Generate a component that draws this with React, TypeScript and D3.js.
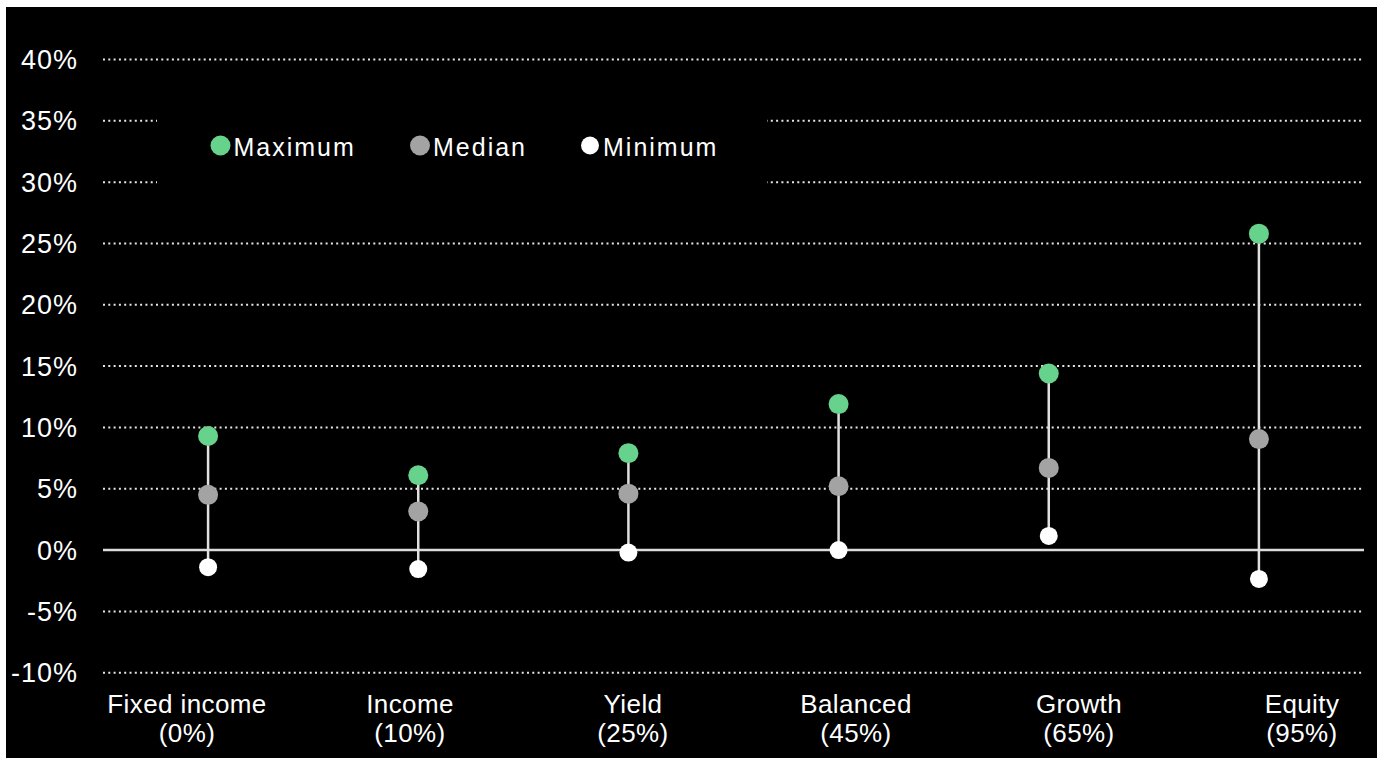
import React from "react";
import * as d3 from "d3";

// Portfolio return ranges by asset mix
const categories = ["Fixed income", "Income", "Yield", "Balanced", "Growth", "Equity"];
const equityShares = ["(0%)", "(10%)", "(25%)", "(45%)", "(65%)", "(95%)"];
const maximumValues = [9.3, 6.1, 7.9, 11.9, 14.4, 25.8];
const medianValues = [4.5, 3.15, 4.6, 5.2, 6.7, 9.05];
const minimumValues = [-1.4, -1.55, -0.2, 0.0, 1.15, -2.35];
const yTicks = [-10, -5, 0, 5, 10, 15, 20, 25, 30, 35, 40];

const legendItems = [
  { label: "Maximum", color: "#66d28b" },
  { label: "Median", color: "#a3a3a3" },
  { label: "Minimum", color: "#ffffff" },
];

const W = 1383;
const H = 765;
const FONT = "'Liberation Sans', Arial, Helvetica, sans-serif";

export default function App() {
  // markers sit in the plot bands; the category labels use a slightly wider band
  const x = d3.scaleBand<string>().domain(categories).range([103, 1364]);
  const xLabel = d3.scaleBand<string>().domain(categories).range([75.5, 1413.5]);
  const y = d3.scaleLinear().domain([-10, 40]).range([672.7, 59.5]);
  const cx = (c: string) => (x(c) as number) + x.bandwidth() / 2;
  const lx = (c: string) => (xLabel(c) as number) + xLabel.bandwidth() / 2;

  const legendX = [220.5, 420, 590];

  return (
    <svg
      width={W}
      height={H}
      style={{ position: "absolute", left: 0, top: 0, background: "#ffffff" }}
      fontFamily={FONT}
    >
      <rect x={6} y={7} width={1371} height={751} fill="#000000" />

      {/* gridlines */}
      {yTicks.map((t) =>
        t === 0 ? null : (
          <line
            key={`g${t}`}
            x1={103}
            x2={1364}
            y1={y(t)}
            y2={y(t)}
            stroke="#e6e6e6"
            strokeWidth={2}
            strokeDasharray="2 3.3"
          />
        )
      )}
      <line x1={103} x2={1364} y1={y(0)} y2={y(0)} stroke="#dcdcdc" strokeWidth={2.5} />

      {/* y tick labels */}
      {yTicks.map((t) => (
        <text
          key={`t${t}`}
          x={78}
          y={y(t) + 9.5}
          textAnchor="end"
          fontSize={27}
          letterSpacing={1}
          fill="#ffffff"
        >
          {`${t}%`}
        </text>
      ))}

      {/* legend */}
      <rect x={157} y={104} width={610} height={96} fill="#000000" />
      {legendItems.map((item, i) => (
        <g key={item.label}>
          <circle cx={legendX[i]} cy={145.5} r={item.label === "Minimum" ? 9 : 10} fill={item.color} />
          <text
            x={legendX[i] + 13}
            y={155.7}
            fontSize={25}
            letterSpacing={2}
            fill="#ffffff"
          >
            {item.label}
          </text>
        </g>
      ))}

      {/* ranges */}
      {categories.map((c, i) => {
        const px = cx(c);
        return (
          <g key={c}>
            <line
              x1={px}
              x2={px}
              y1={y(maximumValues[i])}
              y2={y(minimumValues[i])}
              stroke="#e0e0e0"
              strokeWidth={2.5}
            />
            <circle cx={px} cy={y(maximumValues[i])} r={10} fill={legendItems[0].color} />
            <circle cx={px} cy={y(medianValues[i])} r={10} fill={legendItems[1].color} />
            <circle cx={px} cy={y(minimumValues[i])} r={9} fill={legendItems[2].color} />
          </g>
        );
      })}

      {/* category labels */}
      {categories.map((c, i) => (
        <text key={`c${c}`} textAnchor="middle" fontSize={26} letterSpacing={0.4} fill="#ffffff">
          <tspan x={lx(c)} y={713.3}>
            {c}
          </tspan>
          <tspan x={lx(c)} y={741.7}>
            {equityShares[i]}
          </tspan>
        </text>
      ))}
    </svg>
  );
}
